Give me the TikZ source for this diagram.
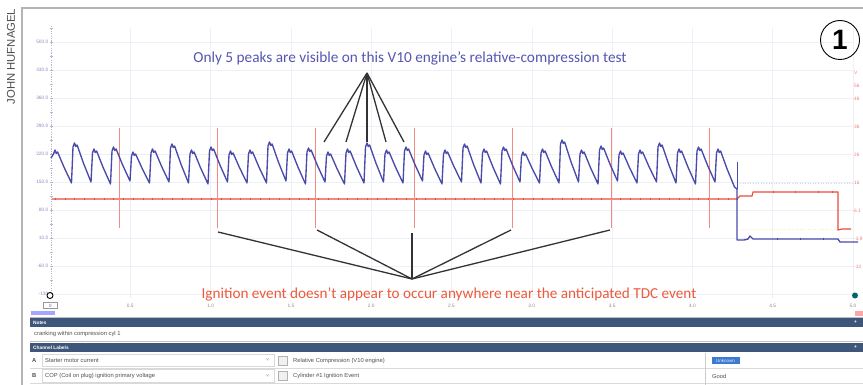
\documentclass[tikz,border=0pt]{standalone}
\usepackage{fontspec}
\setmainfont{Carlito}
\newfontfamily\arial{Liberation Sans}
\definecolor{annblue}{HTML}{5656B2}
\definecolor{annred}{HTML}{EC5A3C}
\definecolor{wblue}{HTML}{4A4AAA}
\definecolor{wred}{HTML}{EC4A3C}
\definecolor{spk}{HTML}{F28C82}
\definecolor{barc}{HTML}{3E5679}
\definecolor{gridc}{HTML}{EEF0F7}
\definecolor{axlab}{HTML}{8C8CC4}
\definecolor{axc}{HTML}{B8B8CC}
\definecolor{rlab}{HTML}{F08070}
\definecolor{framec}{HTML}{B4B4B4}
\definecolor{tabtxt}{HTML}{505050}
\definecolor{linec}{HTML}{333333}
\definecolor{selblue}{HTML}{3C7BD0}
\begin{document}
\begin{tikzpicture}[x=1pt,y=-1pt,
  tinyl/.style={font=\arial\fontsize{4.8}{5}\selectfont, inner sep=0pt},
  tabl/.style={font=\arial\fontsize{5.8}{6}\selectfont, inner sep=0pt, text=tabtxt, anchor=west},
  barl/.style={font=\arial\bfseries\fontsize{4.8}{5}\selectfont, inner sep=0pt, text=white, anchor=west},
  pointer/.style={linec, line width=1.3},
  spike/.style={spk, line width=0.8}]
\useasboundingbox (0,0) rectangle (863,385);
\fill[white] (0,0) rectangle (863,385);
% credit
\node[rotate=90, font=\arial\fontsize{11.3}{12}\selectfont, text=black!70, inner sep=0pt] (credit) at (11,56.5) {JOHN HUFNAGEL};
% frame
\draw[framec, line width=1.2] (22,385) -- (22,8) -- (863,8);
% grid
\foreach \k in {1,...,10} \draw[gridc, line width=0.6] ({50+80.3*\k},28) -- ({50+80.3*\k},298);
\foreach \k in {0,...,9} \draw[gridc, line width=0.6] (52,{42+28*\k}) -- (853,{42+28*\k});
\draw[gridc!70!yellow, dotted, line width=0.6] (740,229) -- (853,229);
\draw[gridc!60!blue!40, dotted, line width=0.6] (740,183) -- (853,183);
% left axis
\draw[axc, dash pattern=on 1.2pt off 1.2pt, line width=0.8] (51,26) -- (51,298);
\foreach \k in {0,...,19} \draw[axc, line width=0.5] (49.5,{28+14*\k}) -- (52.5,{28+14*\k});
\foreach \v/\yy [count=\i] in {500.0/42,430.0/70,360.0/98,290.0/126,220.0/154,150.0/182,80.0/210,10.0/238,-60.0/266,-130/294}
  \node[tinyl, text=axlab, anchor=east] (ly\i) at (48.5,\yy) {\v};
% right axis labels
\foreach \v/\yy [count=\i] in {V/73,56/86,46/99,36/127,26/155,16/183,6.1/211,-3.9/239,-13/267}
  \node[tinyl, text=rlab, anchor=west] (ry\i) at (854,\yy) {\v};
% time labels
\foreach \v [count=\i] in {0.5,1.0,1.5,2.0,2.5,3.0,3.5,4.0,4.5,5.0}
  \node[tinyl, text=black!45] (tx\i) at ({50+80.3*\i},305.5) {\v};
\node[draw=black!40, fill=white, minimum width=14pt, minimum height=6pt, inner sep=0pt, font=\arial\fontsize{4.5}{5}\selectfont, text=black!60] (t0) at (50.5,305.5) {0};
\node[circle, draw=black, line width=0.9, fill=white, minimum size=6pt, inner sep=0pt] (rulerL) at (50,295.5) {};
\node[circle, fill=teal!80!black, minimum size=6pt, inner sep=0pt] (rulerR) at (855,295.5) {};
\node[fill=red!35, minimum width=8pt, minimum height=5pt, inner sep=0pt] (rbox) at (859,313.5) {};
\node[fill=blue!35, minimum width=24pt, minimum height=4pt, inner sep=0pt] (lbox) at (43,312.5) {};
% red trace
\draw[wred, line width=1.1] (52,199) -- (737,199) -- (740,196) -- (752,196) -- (753,192) -- (838,192) -- (838,230) -- (842,229) -- (851,229);
\foreach \j in {0,...,70} \draw[wred, line width=0.5] ({55+9.75*\j},197.6) -- ++(0,2.8);
\foreach \xx in {773,795,818,832} \draw[wred, line width=0.5] (\xx,190.6) -- ++(0,2.8);
% ignition spikes
\foreach \xx in {119,217,315,414,512,611,709} \draw[spike] (\xx,128) -- (\xx,228);
% blue trace
\draw[wblue, line width=1.35, line join=round] (51,158)
 \foreach \k/\yp/\yt in {0/150/183,1/143/182,2/149/184,3/147/181,4/152/183,
   5/149/182,6/144/183,7/150/184,8/147/182,9/151/183,
   10/150/183,11/142/181,12/149/184,13/148/182,14/152/184,
   15/149/183,16/143/182,17/150/183,18/147/181,19/151/184,
   20/150/182,21/144/183,22/149/184,23/147/182,24/152/183,
   25/149/183,26/140/182,27/150/184,28/146/181,29/151/183,
   30/150/182,31/143/183,32/149/184,33/147/182,34/149/187}
 { -- ({55+19.5*\k-1.5},{\yp+4}) -- ({55+19.5*\k},\yp) -- ({55+19.5*\k+1.3},{\yp+3.5})
   -- ({55+19.5*\k+2.6},{\yp+2}) -- ({55+19.5*\k+9},{\yp+0.52*(\yt-\yp)}) -- ({55+19.5*\k+16.5},\yt) }
 -- (737,189) -- (737,240) -- (744,240) -- (748,239) -- (750,236) -- (753,239) -- (838,239) -- (840,242) -- (858,242);
\draw[wblue, line width=0.8] (737,162) -- (737,189);
\foreach \xx in {777,800,823} \draw[wblue, line width=0.5] (\xx,237.6) -- ++(0,2.8);
% annotations
\node[font=\fontsize{15.3}{17}\selectfont, text=annblue, inner sep=0pt] (topnote) at (410,58) {Only 5 peaks are visible on this V10 engine's relative-compression test};
\node[font=\fontsize{15.2}{17}\selectfont, text=annred, inner sep=0pt] (botnote) at (449,294.5) {Ignition event doesn't appear to occur anywhere near the anticipated TDC event};
\coordinate (apexT) at (367,73);
\coordinate (pk1) at (324,142);
\coordinate (pk2) at (346,142);
\coordinate (pk3) at (367,142);
\coordinate (pk4) at (386,142);
\coordinate (pk5) at (404,142);
\foreach \p in {pk1,pk2,pk3,pk4,pk5} \draw[pointer] (apexT) -- (\p);
\coordinate (apexB) at (412,279);
\coordinate (ig1) at (218,232);
\coordinate (ig2) at (317,230);
\coordinate (ig3) at (412,233);
\coordinate (ig4) at (511,230);
\coordinate (ig5) at (610,230);
\foreach \p in {ig1,ig2,ig3,ig4,ig5} \draw[pointer] (apexB) -- (\p);
% badge
\node[circle, draw=black, line width=0.9, minimum size=39pt, inner sep=0pt, font=\arial\bfseries\fontsize{28}{28}\selectfont] (badge) at (840,40) {1};
% bottom panel
\draw[black!25, line width=0.8] (30,317) -- (863,317);
\fill[barc] (30,318) rectangle (863,327);
\node[barl] (notesh) at (33,322.5) {Notes};
\node[tabl] (notes) at (34,334) {cranking within compression cyl 1};
\draw[black!25, line width=0.8] (30,341) -- (863,341);
\fill[barc] (30,343) rectangle (863,352);
\node[barl] (chanh) at (33,347.5) {Channel Labels};
\node[barl] (plus1) at (854,322.5) {+};
\node[barl] (plus2) at (854,347.5) {+};
\draw[black!15, line width=0.6] (30,368) -- (863,368);
\draw[black!15, line width=0.6] (30,383.5) -- (863,383.5);
\draw[black!15, line width=0.6] (42,354.5) rectangle (274,366.5);
\draw[black!15, line width=0.6] (42,369.5) rectangle (274,382.5);
\node[tabl, font=\arial\bfseries\fontsize{5.8}{6}\selectfont] (rowA) at (32,360.5) {A};
\node[tabl, font=\arial\bfseries\fontsize{5.8}{6}\selectfont] (rowB) at (32,376) {B};
\node[tabl] (a1) at (45,360.5) {Starter motor current};
\node[tabl] (b1) at (45,376) {COP (Coil on plug) ignition primary voltage};
\node[tabl, text=black!50] (da) at (266,360.5) {\fontsize{5}{5}\selectfont\char"02C5};
\node[tabl, text=black!50] (db) at (266,376) {\fontsize{5}{5}\selectfont\char"02C5};
\node[draw=black!30, fill=black!6, minimum width=9pt, minimum height=9pt, inner sep=0pt] (ba) at (283,360.5) {};
\node[draw=black!30, fill=black!6, minimum width=9pt, minimum height=9pt, inner sep=0pt] (bb) at (283,376) {};
\node[tabl] (a2) at (293,360.5) {Relative Compression (V10 engine)};
\node[tabl] (b2) at (293,376) {Cylinder \#1 Ignition Event};
\draw[black!20, line width=0.6] (705,353) -- (705,385);
\node[fill=selblue, minimum width=28pt, minimum height=7.5pt, inner sep=0pt, font=\arial\fontsize{4.5}{5}\selectfont, text=white!85!selblue] (a3) at (725.5,360.5) {Unknown};
\node[tabl] (b3) at (712,376) {Good};
\end{tikzpicture}
\end{document}
